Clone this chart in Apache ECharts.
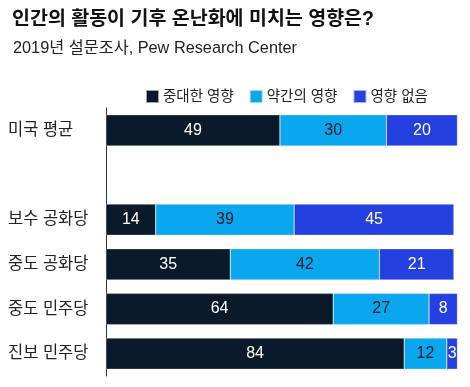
<!DOCTYPE html>
<html><head><meta charset="utf-8">
<script src="https://cdn.jsdelivr.net/npm/echarts@6/dist/echarts.min.js"></script>
<style>html,body{margin:0;padding:0;background:#fff}#c{width:470px;height:387px}</style>
</head><body><div id="c"></div>
<script>
const categories = ['미국 평균', '', '보수 공화당', '중도 공화당', '중도 민주당', '진보 민주당'];
const seriesNames = ['중대한 영향', '약간의 영향', '영향 없음'];
const major = [49, null, 14, 35, 64, 84];
const minor = [30, null, 39, 42, 27, 12];
const none = [20, null, 45, 21, 8, 3];
const colors = ['#0b1a2a', '#0aa6ee', '#2540e0'];
const labelColors = ['#ffffff', '#0b1a2a', '#ffffff'];
const FONT = '"Liberation Sans", "Noto Sans CJK KR", sans-serif';

const chart = echarts.init(document.getElementById('c'));
const data = [major, minor, none];
chart.setOption({
  animation: false,
  title: [
    {text: '인간의 활동이 기후 온난화에 미치는 영향은?', left: 7, top: 5,
     textStyle: {fontFamily: FONT, fontSize: 19.5, fontWeight: 'bold', color: '#111'}},
    {text: '2019년 설문조사, Pew Research Center', left: 8, top: 35,
     textStyle: {fontFamily: FONT, fontSize: 16.3, fontWeight: 'normal', color: '#222'}}
  ],
  legend: {
    top: 84, left: 140, itemWidth: 13, itemHeight: 13, itemGap: 15,
    icon: 'rect',
    textStyle: {fontFamily: FONT, fontSize: 14.5, color: '#222', padding: [0,0,0,-1]},
    data: seriesNames
  },
  grid: {left: 106, right: 9, top: 108, bottom: 11, containLabel: false},
  xAxis: {type: 'value', min: 0, max: 100, show: false},
  yAxis: {
    type: 'category', data: categories, inverse: true,
    axisLine: {show: true, lineStyle: {color: '#333', width: 1}},
    axisTick: {show: false},
    axisLabel: {align: 'left', margin: 98, fontFamily: FONT, fontSize: 16.5, color: '#222'}
  },
  series: seriesNames.map((n, i) => ({
    name: n, type: 'bar', stack: 'a', data: data[i], barWidth: '70%',
    itemStyle: {color: colors[i], borderColor: 'rgba(255,255,255,0.6)', borderWidth: 0.5},
    label: {show: true, position: 'inside', color: labelColors[i], fontFamily: FONT, fontSize: 16}
  }))
});
</script></body></html>
